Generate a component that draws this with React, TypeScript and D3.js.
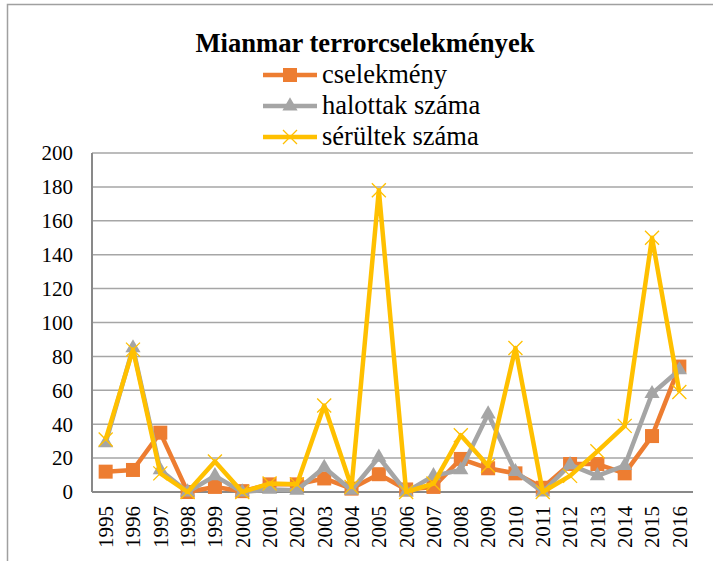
import React, { useRef, useEffect } from "react"
import * as d3 from "d3"

const years = ["1995","1996","1997","1998","1999","2000","2001","2002","2003","2004","2005",
  "2006","2007","2008","2009","2010","2011","2012","2013","2014","2015","2016"]
const cselekmeny = [12, 13, 35, 0, 3, 0.5, 4.5, 4.5, 8, 2, 10.5, 1.5, 3, 19.5, 14, 11, 2.5, 16.5, 16.5, 11, 33, 74]
const halottak = [29, 85, 13, 0, 9.5, 0, 1.5, 1, 14.5, 1, 20.5, 0, 9.5, 13, 46, 12, 0, 16, 9.5, 15.5, 58, 72]
const serultek = [31, 84, 11, 0, 18, 0, 5, 4.5, 51, 3, 178, 0, 5, 33.5, 15.5, 85, 0, 9.5, 24, 39, 150, 59]
const yTicks = [0, 20, 40, 60, 80, 100, 120, 140, 160, 180, 200]

const seriesList = [
  { name: "cselekmény", values: cselekmeny, color: "#ED7D31", marker: "square" },
  { name: "halottak száma", values: halottak, color: "#A5A5A5", marker: "triangle" },
  { name: "sérültek száma", values: serultek, color: "#FFC000", marker: "x" },
]

const FONT = "'Liberation Serif', 'Times New Roman', serif"

function drawMarker(g, type, color, cx, cy) {
  if (type == "square") {
    g.append("rect")
      .attr("x", cx - 7).attr("y", cy - 7)
      .attr("width", 14).attr("height", 14)
      .attr("fill", color)
  } else if (type == "triangle") {
    g.append("path")
      .attr("d", d3.symbol().type(d3.symbolTriangle).size(100)())
      .attr("transform", "translate(" + cx + "," + cy + ")")
      .attr("fill", color)
  } else {
    g.append("path")
      .attr("d", `M${cx - 7},${cy - 7}L${cx + 7},${cy + 7}M${cx - 7},${cy + 7}L${cx + 7},${cy - 7}`)
      .attr("stroke", color)
      .attr("stroke-width", 1.3)
      .attr("fill", "none")
  }
}

export default function App() {
  const svgRef = useRef(null)

  useEffect(() => {
    const svg = d3.select(svgRef.current)
    svg.selectAll("*").remove()

    const left = 92, right = 693, top = 153, bottom = 492

    const x = d3.scaleBand().domain(years).range([left, right]).padding(0)
    const y = d3.scaleLinear().domain([0, 200]).range([bottom, top])
    const cx = (d) => x(d) + x.bandwidth() / 2

    // outer frame
    svg.append("path")
      .attr("d", "M7.5,561V4.5H713")
      .attr("stroke", "#a0a0a0")
      .attr("stroke-width", 1.5)
      .attr("fill", "none")

    // gridlines
    svg.append("g")
      .selectAll("line")
      .data(yTicks.filter(t => t > 0))
      .enter()
      .append("line")
      .attr("x1", left).attr("x2", right)
      .attr("y1", d => y(d)).attr("y2", d => y(d))
      .attr("stroke", "#a6a6a6")
      .attr("stroke-width", 1.5)

    // axes lines
    svg.append("line")
      .attr("x1", left).attr("x2", left).attr("y1", top).attr("y2", bottom)
      .attr("stroke", "#898989").attr("stroke-width", 2)
    svg.append("line")
      .attr("x1", left).attr("x2", right).attr("y1", bottom).attr("y2", bottom)
      .attr("stroke", "#898989").attr("stroke-width", 2)

    // y tick labels
    svg.append("g")
      .selectAll("text")
      .data(yTicks)
      .enter()
      .append("text")
      .attr("x", 73)
      .attr("y", d => y(d))
      .attr("dy", "0.35em")
      .attr("text-anchor", "end")
      .attr("font-family", FONT)
      .attr("font-size", "21px")
      .attr("fill", "#000")
      .text(d => d)

    // x tick labels
    svg.append("g")
      .selectAll("text")
      .data(years)
      .enter()
      .append("text")
      .attr("transform", d => "translate(" + cx(d) + "," + 506 + ") rotate(-90)")
      .attr("dy", "0.35em")
      .attr("text-anchor", "end")
      .attr("font-family", FONT)
      .attr("font-size", "21px")
      .attr("fill", "#000")
      .text(d => d)

    // series
    const line = d3.line().x((d, i) => cx(years[i])).y(d => y(d))
    seriesList.forEach(s => {
      const g = svg.append("g")
      g.append("path")
        .attr("d", line(s.values))
        .attr("fill", "none")
        .attr("stroke", s.color)
        .attr("stroke-width", 4.5)
        .attr("stroke-linejoin", "round")
      s.values.forEach((v, i) => drawMarker(g, s.marker, s.color, cx(years[i]), y(v)))
    })

    // title
    svg.append("text")
      .attr("x", 365)
      .attr("y", 52)
      .attr("text-anchor", "middle")
      .attr("font-family", FONT)
      .attr("font-size", "26.6px")
      .attr("font-weight", "bold")
      .attr("fill", "#000")
      .text("Mianmar terrorcselekmények")

    // legend
    const legendY = [75, 106, 137]
    seriesList.forEach((s, i) => {
      const g = svg.append("g")
      const ly = legendY[i]
      g.append("line")
        .attr("x1", 263).attr("x2", 317)
        .attr("y1", ly).attr("y2", ly)
        .attr("stroke", s.color)
        .attr("stroke-width", 4.5)
      drawMarker(g, s.marker, s.color, 290, ly)
      g.append("text")
        .attr("x", 322)
        .attr("y", ly + 8)
        .attr("font-family", FONT)
        .attr("font-size", "26.5px")
        .attr("fill", "#000")
        .text(s.name)
    })
  }, [])

  return (
    <svg ref={svgRef} width={713} height={561}
      style={{ position: "absolute", left: 0, top: 0, background: "#fff" }} />
  )
}
